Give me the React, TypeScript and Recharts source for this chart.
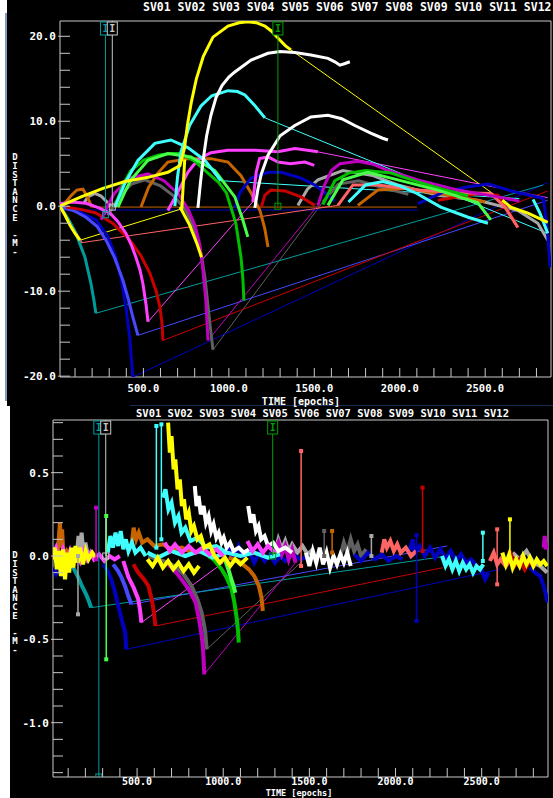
import React from "react";
import { LineChart, Line, XAxis, YAxis, ReferenceArea } from "recharts";

type Pt = [number, number];

const svNames = ["SV01", "SV02", "SV03", "SV04", "SV05", "SV06", "SV07", "SV08", "SV09", "SV10", "SV11", "SV12"];

const YEL = "#ffff00";
const WHT = "#ffffff";
const CYN = "#40ffff";
const GRN = "#00c000";
const MAG = "#c000c0";
const BRN = "#c86400";
const DGY = "#606060";
const BLU = "#4848ff";
const NAV = "#0000c0";
const RED = "#c80000";
const PNK = "#ff40ff";
const TEA = "#009c9c";
const LGN = "#48ff48";
const SAL = "#ff6464";
const LGY = "#a8a8a8";

const MONO = '"DejaVu Sans Mono", "Liberation Mono", monospace';
const FRAME = "#c8c8c8";

const xDomain: [number, number] = [12, 2885];
const xTicks = [100, 200, 300, 400, 500, 600, 700, 800, 900, 1000, 1100, 1200, 1300, 1400, 1500, 1600, 1700, 1800, 1900, 2000, 2100, 2200, 2300, 2400, 2500, 2600, 2700, 2800];
const xMajors = [500, 1000, 1500, 2000, 2500];

const topYDomain: [number, number] = [-20.1, 21.8];
const topYTicks = [-20, -18, -16, -14, -12, -10, -8, -6, -4, -2, 0, 2, 4, 6, 8, 10, 12, 14, 16, 18, 20];
const topYMajors = [-20, -10, 0, 10, 20];

const botYDomain: [number, number] = [-1.326, 0.816];
const botYTicks = [-1.3, -1.2, -1.1, -1.0, -0.9, -0.8, -0.7, -0.6, -0.5, -0.4, -0.3, -0.2, -0.1, 0, 0.1, 0.2, 0.3, 0.4, 0.5, 0.6, 0.7, 0.8];
const botYMajors = [-1.0, -0.5, 0, 0.5];

// cycle slip markers
const slipEpochs = [278, 318, 1287];
const slipColors = [TEA, "#c8c8c8", "#00a000"];
const topSlipEnds = [-1.0, -0.1, 0.0];
const botSlipEnds = [-1.326, 0.0, 0.0];

// ---------- upper panel: distance [m] ----------
const top01: Pt[][] = [
  [[12, 0], [40, -1.0], [70, -2.2], [100, -3.2], [129, -4.0]],
  [[12, 0], [135, 1.1], [263, 2.1], [392, 2.9], [527, 3.4], [643, 4.0], [714, 4.8], [740, 6.8], [758, 9.6], [780, 12.2], [810, 15.0], [850, 17.6], [907, 19.9], [995, 21.2], [1060, 21.6], [1111, 21.7], [1160, 21.6], [1211, 21.2], [1250, 20.6], [1287, 19.8], [1330, 18.9], [1363, 18.4]],
  [[725, -0.3], [733, 2.5], [742, 5.5]],
  [[714, -0.1], [770, -2.2], [815, -4.5], [840, -6.0]],
  [[2600, 0.7], [2650, -0.1], [2750, -0.8], [2866, -1.9]],
];
const topJ01: Pt[][] = [[[129, -4.0], [725, -0.3]], [[1363, 18.4], [2600, 0.7]]];

const top02: Pt[][] = [
  [[819, -0.2], [835, 3.0], [850, 5.5], [870, 8.3], [895, 10.7], [925, 12.8], [960, 14.2], [1000, 15.2], [1035, 15.8], [1130, 17.2], [1229, 18.0], [1300, 18.2], [1386, 18.1], [1480, 17.8], [1580, 17.4], [1620, 17.0], [1650, 16.6], [1680, 16.8], [1708, 17.0]],
  [[1152, -0.2], [1170, 2.0], [1190, 3.8], [1229, 6.0], [1300, 8.3], [1386, 9.5], [1480, 10.5], [1580, 10.7], [1660, 10.3], [1737, 9.5], [1830, 8.6], [1900, 8.0], [1931, 7.8]],
];
const topJ02: Pt[][] = [];

const top03: Pt[][] = [
  [[333, -0.1], [392, 2.7], [468, 5.4], [567, 7.4], [661, 7.8], [760, 6.9], [860, 5.4], [954, 3.0]],
  [[684, 0], [700, 3.5], [720, 6.4], [770, 9.5], [837, 11.8], [900, 13.0], [995, 13.6], [1050, 13.5], [1094, 13.1], [1150, 11.9], [1211, 10.4]],
  [[1700, 0.5], [1800, 2.5], [1900, 2.9], [2000, 2.4], [2100, 1.5], [2240, -0.1], [2400, -1.3], [2516, -2.0]],
  [[2780, 0.8], [2820, -0.8], [2866, -3.2]],
];
const topJ03: Pt[][] = [[[954, 3.0], [2700, 0.9]], [[1211, 10.4], [2866, -3.2]]];

const top04: Pt[][] = [
  [[333, -0.1], [380, 2.5], [427, 4.2], [500, 5.4], [585, 6.0], [660, 6.2], [720, 6.2], [800, 5.3], [878, 3.9], [940, 2.8], [985, 1.6], [1041, -2.0], [1071, -6.0], [1082, -8.5], [1088, -11.1]],
  [[1550, 0.2], [1620, 3.0], [1700, 3.9], [1800, 4.2], [1950, 3.9], [2100, 2.9], [2250, 2.0], [2400, 1.2]],
];
const topJ04: Pt[][] = [];

const top05: Pt[][] = [
  [[252, -1.6], [290, 0.0], [330, 1.5], [420, 3.3], [527, 3.8], [620, 3.0], [702, 1.5], [760, -0.3], [801, -2.2], [830, -4.5], [848, -7.5], [865, -11.0], [878, -15.8]],
  [[1521, 0.1], [1560, 2.5], [1600, 4.2], [1650, 5.0], [1755, 5.3], [1850, 4.9], [1931, 4.2], [2106, 3.1], [2340, 1.9], [2574, 1.1], [2700, 0.6]],
];
const topJ05: Pt[][] = [[[878, -15.8], [1521, 0.1]]];

const top06: Pt[][] = [
  [[30, 0.1], [75, 1.2], [110, 1.9], [146, 2.0], [170, 1.2], [187, 0.4], [200, -0.1]],
  [[486, -0.1], [530, 2.2], [585, 3.9], [643, 5.2], [760, 5.6], [895, 5.6], [995, 5.2], [1071, 3.6], [1129, 1.6], [1182, -0.5], [1210, -2.6], [1229, -4.8]],
  [[1755, 0.1], [1872, 1.9], [2048, 2.1], [2223, 1.5], [2399, 0.9], [2500, 0.5]],
];
const topJ06: Pt[][] = [[[200, -0.1], [2100, -0.1]]];

const top07: Pt[][] = [
  [[292, -1.1], [360, 1.2], [430, 2.6], [509, 3.1], [600, 2.4], [684, 1.1], [750, -0.6], [801, -2.8], [840, -5.8], [860, -8.4], [889, -13.8], [907, -16.9]],
  [[1550, 0.5], [1640, 2.6], [1760, 3.0], [1900, 2.2], [2050, 1.4]],
];
const topJ07: Pt[][] = [[[907, -16.9], [1550, 0.5]]];

const top08: Pt[][] = [
  [[12, -0.1], [90, -0.5], [164, -1.3], [230, -2.4], [281, -4.0], [330, -6.0], [380, -8.7], [410, -10.8], [439, -13.1], [468, -15.2]],
];
const topJ08: Pt[][] = [[[468, -15.2], [2866, 0.7]]];

const top09: Pt[][] = [
  [[12, -0.1], [120, -0.6], [222, -1.6], [290, -3.5], [339, -6.0], [370, -8.5], [398, -11.9], [420, -15.5], [432, -18.5], [439, -20.1]],
  [[1035, -0.2], [1065, 1.6], [1129, 3.3], [1229, 4.0], [1305, 4.0], [1422, 3.3], [1503, 2.5], [1580, 1.3], [1620, 0.6]],
  [[2106, 0.3], [2250, 1.6], [2400, 2.3], [2520, 2.6], [2650, 1.8], [2780, 1.2], [2840, 0.9], [2860, -2.0], [2872, -5.0], [2880, -7.2]],
];
const topJ09: Pt[][] = [[[439, -20.1], [2866, 2.8]], [[12, -0.45], [2106, -0.45]]];

const top10: Pt[][] = [
  [[47, -0.1], [140, -0.4], [222, -0.8], [320, -2.0], [421, -4.0], [485, -5.8], [538, -7.9], [575, -10.0], [597, -11.9], [610, -14.0], [614, -15.8]],
  [[1190, -0.1], [1211, 1.3], [1246, 1.9], [1328, 1.8], [1422, 1.1], [1503, 0.1]],
  [[2223, 0.7], [2457, 1.5], [2574, 1.3], [2633, -0.5], [2691, -2.5]],
];
const topJ10: Pt[][] = [[[614, -15.8], [2866, 1.8]]];

const top11: Pt[][] = [
  [[12, 0.3], [80, 0.5], [164, 0.35], [240, -0.2], [304, -0.8], [350, -1.8], [398, -3.2], [430, -4.6], [456, -6.0], [480, -7.5], [497, -9.1], [515, -11.5], [527, -13.6]],
  [[1140, 0.5], [1160, 4.0], [1180, 5.6], [1230, 5.8], [1287, 5.2], [1360, 5.0], [1445, 5.2], [1500, 4.8]],
  [[643, -0.5], [700, 1.6], [760, 4.0], [820, 5.5], [895, 6.3], [995, 6.6], [1152, 6.6], [1287, 6.4], [1386, 6.8], [1460, 6.6], [1521, 6.4]],
];
const topJ11: Pt[][] = [[[527, -13.6], [1140, 0.5]], [[1521, 6.4], [2866, 1.0]]];

const top12: Pt[][] = [
  [[12, 0], [60, -1.5], [105, -3.2], [158, -6.0], [193, -9.1], [210, -11.0], [222, -12.6]],
];
const topJ12: Pt[][] = [[[222, -12.6], [2840, 2.5]]];

const top13: Pt[][] = [
  [[351, -0.1], [390, 1.6], [427, 3.1], [527, 5.4], [643, 6.2], [778, 5.8], [918, 4.2], [1035, 1.1], [1080, -1.5], [1111, -3.6]],
  [[1580, 0.1], [1667, 3.1], [1813, 4.0], [1989, 3.1], [2223, 1.9], [2457, 0.4], [2533, -1.6]],
];
const topJ13: Pt[][] = [];

const top14: Pt[][] = [
  [[12, 0], [60, -1.6], [100, -3.0], [135, -4.3]],
  [[1638, 0.1], [1726, 2.5], [1872, 2.5], [2106, 1.9], [2340, 1.6], [2533, 1.5], [2615, -0.1], [2691, -2.5]],
];
const topJ14: Pt[][] = [[[135, -4.3], [1638, 0.1]]];

const top15: Pt[][] = [
  [[150, 0.3], [175, 1.1], [216, 1.5], [252, 1.2], [292, 0.4], [310, 0.0]],
  [[1404, 0.1], [1460, 2.0], [1521, 3.1], [1667, 4.2], [1843, 3.6], [1989, 2.5], [2223, 1.3], [2457, 0.7], [2691, -0.5], [2808, -2.0], [2866, -4.0]],
];
const topJ15: Pt[][] = [];

// ---------- lower panel: residual distance [m] ----------
const bot01: Pt[][] = [
  [[10, -0.02], [22, 0.05], [34, -0.08], [46, 0.03], [58, -0.12], [70, 0.04], [82, -0.14], [94, 0.02], [106, -0.10], [118, 0.05], [130, -0.07], [142, 0.06], [156, -0.04], [170, 0.05], [186, -0.05], [202, 0.03], [218, -0.02], [240, 0.02], [260, -0.01]],
  [[560, -0.02], [590, -0.06], [620, -0.01], [650, -0.07], [680, -0.03], [710, -0.08], [740, -0.04], [770, -0.09], [800, -0.05], [830, -0.10], [860, -0.06]],
  [[680, 0.80], [690, 0.62], [700, 0.72], [712, 0.52], [722, 0.58], [735, 0.40], [748, 0.46], [760, 0.30], [772, 0.34], [785, 0.22], [800, 0.26], [815, 0.15], [830, 0.18], [850, 0.10], [870, 0.12], [890, 0.05], [920, 0.07], [950, 0.0], [980, -0.04], [1010, -0.01], [1040, -0.06], [1070, -0.02], [1100, -0.05], [1140, -0.01]],
  [[2620, 0.02], [2640, -0.05], [2660, 0.01], [2680, -0.07], [2700, -0.02], [2720, -0.06], [2740, 0.0], [2760, -0.05], [2780, -0.01], [2800, -0.06], [2820, -0.02], [2840, -0.05], [2860, -0.03], [2880, -0.06]],
];
const botJ01: Pt[][] = [];

const bot02: Pt[][] = [
  [[835, 0.42], [845, 0.30], [857, 0.36], [870, 0.25], [886, 0.30], [900, 0.20], [915, 0.24], [930, 0.15], [944, 0.19], [960, 0.11], [974, 0.14], [990, 0.08], [1003, 0.11], [1020, 0.05], [1040, 0.08], [1060, 0.03], [1090, 0.05], [1120, 0.02], [1149, 0.04]],
  [[1145, 0.30], [1160, 0.20], [1175, 0.25], [1190, 0.15], [1205, 0.18], [1220, 0.10], [1240, 0.12], [1260, 0.06], [1290, 0.08], [1320, 0.03], [1360, 0.05], [1400, 0.02]],
  [[1480, 0.02], [1500, -0.06], [1520, 0.03], [1540, -0.04], [1560, 0.05], [1580, -0.05], [1600, 0.02], [1620, -0.07], [1640, 0.0], [1660, -0.05], [1680, 0.01], [1700, -0.04], [1720, 0.02], [1740, -0.06]],
];
const botJ02: Pt[][] = [];

const bot03: Pt[][] = [
  [[330, 0.02], [345, 0.12], [360, 0.05], [375, 0.14], [390, 0.06], [405, 0.15], [420, 0.04], [435, 0.10], [450, 0.03], [470, 0.08], [490, 0.02], [520, 0.05], [550, 0.0]],
  [[560, 0.02], [620, -0.01], [700, 0.03], [780, 0.0], [860, 0.03], [940, -0.01], [1020, 0.02], [1100, 0.0], [1180, 0.02], [1260, -0.01], [1330, 0.01]],
  [[650, 0.35], [665, 0.40], [682, 0.28], [700, 0.32], [720, 0.20], [740, 0.24], [758, 0.14], [780, 0.17], [810, 0.09], [850, 0.11], [900, 0.05], [960, 0.06], [1020, 0.02]],
  [[2270, 0.0], [2290, -0.06], [2310, -0.02], [2330, -0.08], [2350, -0.03], [2370, -0.09], [2390, -0.04], [2410, -0.08], [2430, -0.05], [2450, -0.10], [2470, -0.06], [2490, -0.08], [2510, -0.05]],
];
const botJ03: Pt[][] = [];

const bot04: Pt[][] = [
  [[915, 0.0], [944, -0.02], [991, -0.08], [1020, -0.13], [1049, -0.20], [1065, -0.28], [1079, -0.38], [1086, -0.45], [1090, -0.52]],
];
const botJ04: Pt[][] = [];

const bot05: Pt[][] = [
  [[682, -0.05], [720, -0.09], [758, -0.14], [800, -0.20], [840, -0.28], [860, -0.38], [875, -0.48], [882, -0.55], [886, -0.62], [890, -0.71]],
  [[1300, 0.03], [1320, 0.08], [1340, 0.01], [1360, 0.06], [1380, -0.02], [1400, 0.04], [1420, -0.04]],
  [[2860, 0.05], [2866, 0.12], [2872, 0.04], [2880, 0.08]],
];
const botJ05: Pt[][] = [[[890, -0.71], [1420, -0.04]]];

const bot06: Pt[][] = [
  [[40, 0.02], [52, 0.20], [58, 0.05], [65, 0.16], [72, 0.0], [90, 0.03], [110, -0.01]],
  [[466, 0.05], [480, 0.17], [495, 0.10], [510, 0.14], [530, 0.08], [560, 0.10], [600, 0.06], [650, 0.07], [700, 0.04], [760, 0.05], [820, 0.02], [880, 0.03], [940, 0.01]],
  [[1032, -0.01], [1090, -0.03], [1149, -0.08], [1180, -0.12], [1207, -0.18], [1222, -0.25], [1230, -0.33]],
];
const botJ06: Pt[][] = [];

const bot07: Pt[][] = [
  [[566, 0.0], [620, -0.02], [680, -0.04], [723, -0.065], [770, -0.11], [816, -0.18], [850, -0.26], [875, -0.34], [895, -0.45], [904, -0.56]],
  [[1680, 0.0], [1700, 0.08], [1720, 0.02], [1740, 0.10], [1760, 0.03], [1780, 0.07], [1800, 0.0], [1830, 0.04]],
];
const botJ07: Pt[][] = [[[904, -0.56], [1460, -0.03]]];

const bot08: Pt[][] = [
  [[361, -0.05], [390, -0.09], [408, -0.125], [430, -0.18], [449, -0.24], [460, -0.27], [466, -0.29]],
];
const botJ08: Pt[][] = [[[466, -0.29], [2300, 0.06]]];

const bot09: Pt[][] = [
  [[10, -0.07], [30, -0.11], [50, -0.08], [70, -0.12], [90, -0.09]],
  [[303, -0.05], [330, -0.09], [350, -0.14], [370, -0.21], [391, -0.30], [410, -0.38], [431, -0.46], [437, -0.56]],
  [[1030, 0.05], [1060, -0.02], [1090, 0.06], [1120, -0.01], [1149, 0.03], [1180, -0.04], [1210, 0.02], [1240, -0.03], [1270, 0.01], [1300, -0.04], [1330, 0.0], [1360, -0.03], [1400, 0.01], [1450, -0.02], [1500, 0.0]],
  [[1760, 0.01], [1800, -0.03], [1840, 0.02], [1880, -0.02], [1920, 0.01], [1960, -0.03], [2000, 0.0], [2040, -0.02]],
  [[2080, 0.03], [2100, 0.10], [2110, 0.02], [2140, 0.06], [2170, 0.0], [2200, 0.05], [2230, -0.01], [2260, 0.04], [2290, -0.02], [2320, 0.03], [2350, -0.03], [2380, 0.01], [2410, -0.04], [2440, -0.02], [2470, -0.06], [2500, -0.09], [2520, -0.14], [2540, -0.10]],
  [[2780, -0.07], [2810, -0.10], [2840, -0.12], [2860, -0.18], [2875, -0.24], [2883, -0.28]],
];
const botJ09: Pt[][] = [[[437, -0.56], [2606, -0.08]]];

const bot10: Pt[][] = [
  [[478, -0.05], [507, -0.10], [540, -0.14], [566, -0.18], [585, -0.26], [598, -0.34], [606, -0.42]],
  [[2664, 0.03], [2690, -0.06], [2720, -0.02], [2750, -0.08], [2780, -0.03], [2810, -0.07]],
];
const botJ10: Pt[][] = [[[606, -0.42], [2274, -0.07]]];

const bot11: Pt[][] = [
  [[10, 0.0], [30, 0.05], [50, -0.02], [70, 0.04], [90, -0.03], [110, 0.03], [130, -0.04], [150, 0.02], [170, -0.03], [190, 0.03], [210, -0.02], [230, 0.02], [250, -0.02], [280, 0.01], [310, -0.03], [340, 0.0], [370, -0.02], [400, 0.0]],
  [[420, -0.03], [449, -0.125], [480, -0.19], [507, -0.26], [518, -0.33], [525, -0.40]],
  [[660, 0.08], [690, 0.03], [720, 0.07], [760, 0.02], [800, 0.06], [840, 0.02], [880, 0.05], [920, 0.01], [960, 0.04], [1000, 0.0]],
  [[1140, 0.09], [1170, 0.03], [1200, 0.07], [1230, 0.02], [1260, 0.06], [1300, 0.02]],
];
const botJ11: Pt[][] = [[[525, -0.40], [1000, -0.04]]];

const bot12: Pt[][] = [
  [[99, -0.02], [130, -0.07], [157, -0.125], [180, -0.18], [204, -0.23], [220, -0.27], [233, -0.31]],
];
const botJ12: Pt[][] = [[[233, -0.31], [2300, 0.0]]];

const bot13: Pt[][] = [
  [[1010, -0.02], [1030, -0.08], [1050, -0.15], [1060, -0.18], [1070, -0.22]],
];
const botJ13: Pt[][] = [];

const bot14: Pt[][] = [
  [[1920, 0.02], [1935, 0.10], [1950, 0.05], [1970, 0.09], [1990, 0.03], [2010, 0.07], [2030, 0.02], [2060, 0.05], [2090, 0.0], [2120, 0.03]],
  [[2548, -0.03], [2570, 0.02], [2590, -0.05], [2610, -0.02], [2640, -0.06], [2660, -0.03]],
];
const botJ14: Pt[][] = [];

const bot15: Pt[][] = [
  [[150, 0.0], [160, 0.12], [168, 0.03], [178, 0.14], [188, 0.02], [200, 0.08], [215, 0.0]],
  [[1300, 0.02], [1320, 0.10], [1340, 0.04], [1360, 0.09], [1380, 0.03], [1400, 0.07], [1430, 0.02], [1460, 0.06], [1490, 0.01], [1520, 0.04]],
  [[2680, 0.02], [2720, -0.02], [2760, 0.03], [2800, -0.04], [2840, -0.06], [2880, -0.10]],
];
const botJ15: Pt[][] = [];

// isolated outliers in the lower panel
const spikeEpochs = [157, 262, 321, 612, 641, 1452, 1586, 1632, 1860, 2122, 2157, 2507, 2590, 2664];
const spikeTops = [0.0, 0.29, 0.24, 0.78, 0.79, 0.63, 0.15, 0.15, 0.12, 0.125, 0.41, 0.14, 0.16, 0.22];
const spikeBottoms = [-0.35, -0.02, -0.62, 0.05, 0.10, -0.06, 0.0, 0.02, 0.0, -0.39, 0.03, -0.03, -0.17, -0.02];
const spikeColors = [LGY, MAG, LGN, CYN, CYN, SAL, DGY, BRN, LGY, NAV, RED, CYN, SAL, YEL];

type Series = { color: string; arcs: Pt[][]; jumps: Pt[][] };

const topSeries: Series[] = [
  { color: LGY, arcs: top15, jumps: topJ15 },
  { color: DGY, arcs: top07, jumps: topJ07 },
  { color: BRN, arcs: top06, jumps: topJ06 },
  { color: NAV, arcs: top09, jumps: topJ09 },
  { color: BLU, arcs: top08, jumps: topJ08 },
  { color: RED, arcs: top10, jumps: topJ10 },
  { color: SAL, arcs: top14, jumps: topJ14 },
  { color: TEA, arcs: top12, jumps: topJ12 },
  { color: MAG, arcs: top05, jumps: topJ05 },
  { color: PNK, arcs: top11, jumps: topJ11 },
  { color: GRN, arcs: top04, jumps: topJ04 },
  { color: LGN, arcs: top13, jumps: topJ13 },
  { color: CYN, arcs: top03, jumps: topJ03 },
  { color: WHT, arcs: top02, jumps: topJ02 },
  { color: YEL, arcs: top01, jumps: topJ01 },
];

const botSeries: Series[] = [
  { color: DGY, arcs: bot07, jumps: botJ07 },
  { color: LGY, arcs: bot15, jumps: botJ15 },
  { color: NAV, arcs: bot09, jumps: botJ09 },
  { color: BLU, arcs: bot08, jumps: botJ08 },
  { color: RED, arcs: bot10, jumps: botJ10 },
  { color: SAL, arcs: bot14, jumps: botJ14 },
  { color: TEA, arcs: bot12, jumps: botJ12 },
  { color: GRN, arcs: bot04, jumps: botJ04 },
  { color: LGN, arcs: bot13, jumps: botJ13 },
  { color: BRN, arcs: bot06, jumps: botJ06 },
  { color: MAG, arcs: bot05, jumps: botJ05 },
  { color: CYN, arcs: bot03, jumps: botJ03 },
  { color: WHT, arcs: bot02, jumps: botJ02 },
  { color: PNK, arcs: bot11, jumps: botJ11 },
  { color: YEL, arcs: bot01, jumps: botJ01 },
];

const toRows = (pts: Pt[]) => pts.map(([t, d]) => ({ t, d }));
const isMajor = (list: number[], v: number) => list.some((m) => Math.abs(m - v) < 1e-6);

type PanelProps = {
  top: number;
  height: number;
  topMargin: number;
  rightMargin: number;
  yAxisWidth: number;
  xAxisHeight: number;
  xLabelDy: number;
  xLabelSize: number;
  yDomain: [number, number];
  yTicks: number[];
  yMajors: number[];
  series: Series[];
  arcWidth: number;
  slipEnds: number[];
  withSpikes: boolean;
};

function Panel(p: PanelProps) {
  const yTick = (t: any) => {
    const v = t.payload.value;
    const major = isMajor(p.yMajors, v);
    return (
      <g>
        <line x1={major ? t.x - 2 : t.x} x2={t.x + 10} y1={t.y} y2={t.y} stroke={FRAME} />
        {major && (
          <text x={t.x - 4} y={t.y + 4} textAnchor="end" fill="#ffffff" fontSize={11} fontWeight="bold" fontFamily={MONO}>
            {v.toFixed(1)}
          </text>
        )}
      </g>
    );
  };
  const xTick = (t: any) => {
    const v = t.payload.value;
    const major = isMajor(xMajors, v);
    return (
      <g>
        <line x1={t.x} x2={t.x} y1={t.y} y2={t.y - 9} stroke={FRAME} />
        {major && (
          <text x={t.x} y={t.y + p.xLabelDy} textAnchor="middle" fill="#ffffff" fontSize={p.xLabelSize} fontWeight="bold" fontFamily={MONO}>
            {v.toFixed(1)}
          </text>
        )}
      </g>
    );
  };

  const jumpLines = p.series.flatMap((s, si) =>
    s.jumps.map((j, ji) => (
      <Line key={`j-${si}-${ji}`} data={toRows(j)} dataKey="d" type="linear" stroke={s.color} strokeWidth={1} dot={false} activeDot={false} isAnimationActive={false} />
    ))
  );
  const arcLines = p.series.flatMap((s, si) =>
    s.arcs.map((a, ai) => (
      <Line key={`a-${si}-${ai}`} data={toRows(a)} dataKey="d" type="linear" stroke={s.color} strokeWidth={p.arcWidth} dot={false} activeDot={false} isAnimationActive={false} />
    ))
  );
  const spikeLines = p.withSpikes
    ? spikeEpochs.map((t, i) => {
        const c = spikeColors[i];
        return (
          <Line
            key={`s-${i}`}
            data={toRows([[t, spikeTops[i]], [t, spikeBottoms[i]]])}
            dataKey="d"
            type="linear"
            stroke={c}
            strokeWidth={1.5}
            activeDot={false}
            isAnimationActive={false}
            dot={(d: any) => <rect key={`sd-${i}-${d.index}`} x={d.cx - 2} y={d.cy - 2} width={4} height={4} fill={c} />}
          />
        );
      })
    : [];
  const slipLines = slipEpochs.map((t, i) => {
    const c = slipColors[i];
    return (
      <Line
        key={`m-${i}`}
        data={toRows([[t, p.yDomain[1]], [t, p.slipEnds[i]]])}
        dataKey="d"
        type="linear"
        stroke={c}
        strokeWidth={1}
        activeDot={false}
        isAnimationActive={false}
        dot={(d: any) =>
          d.index === 0 ? (
            <g key={`md-${i}-0`}>
              <rect x={d.cx - 5} y={d.cy + 1} width={10} height={13} fill="#000000" stroke={c} />
              <text x={d.cx} y={d.cy + 11} textAnchor="middle" fill={c} fontSize={10} fontWeight="bold" fontFamily={MONO}>
                I
              </text>
            </g>
          ) : (
            <rect key={`md-${i}-1`} x={d.cx - 3} y={d.cy - 3} width={6} height={6} fill="none" stroke={c} />
          )
        }
      />
    );
  });

  return (
    <div style={{ position: "absolute", left: 0, top: p.top, width: 553, height: p.height }}>
      <LineChart width={553} height={p.height} margin={{ top: p.topMargin, right: p.rightMargin, bottom: 0, left: 0 }}>
        <XAxis
          type="number"
          dataKey="t"
          domain={xDomain}
          allowDataOverflow
          ticks={xTicks}
          interval={0}
          tick={xTick}
          tickLine={false}
          axisLine={false}
          tickSize={0}
          tickMargin={0}
          height={p.xAxisHeight}
        />
        <YAxis
          type="number"
          domain={p.yDomain}
          allowDataOverflow
          ticks={p.yTicks}
          interval={0}
          tick={yTick}
          tickLine={false}
          axisLine={false}
          tickSize={0}
          tickMargin={0}
          width={p.yAxisWidth}
        />
        {jumpLines}
        {arcLines}
        {spikeLines}
        {slipLines}
        <ReferenceArea x1={xDomain[0]} x2={xDomain[1]} y1={p.yDomain[0]} y2={p.yDomain[1]} fill="none" stroke={FRAME} strokeWidth={1} ifOverflow="visible" />
      </LineChart>
    </div>
  );
}

const yLabelChars = "DISTANCE -M-".split("");

function Captions() {
  const header = svNames.join(" ");
  const txt = { fill: "#ffffff", fontFamily: MONO, fontWeight: "bold" as const };
  return (
    <svg width={553} height={798} style={{ position: "absolute", left: 0, top: 0, pointerEvents: "none" }}>
      <text x={143} y={11} fontSize={11.5} {...txt} xmlSpace="preserve">{header}</text>
      <text x={136} y={416.5} fontSize={10.5} {...txt} xmlSpace="preserve">{header}</text>
      <text x={301} y={404.8} fontSize={10} textAnchor="middle" {...txt} xmlSpace="preserve">TIME [epochs]</text>
      <text x={299} y={796} fontSize={8.5} textAnchor="middle" {...txt} xmlSpace="preserve">TIME [epochs]</text>
      {yLabelChars.map((ch, i) => (
        <text key={`ya-${i}`} x={15} y={160.3 + i * 8.6} fontSize={9} textAnchor="middle" {...txt}>{ch}</text>
      ))}
      {yLabelChars.map((ch, i) => (
        <text key={`yb-${i}`} x={15} y={558.3 + i * 8.6} fontSize={9} textAnchor="middle" {...txt}>{ch}</text>
      ))}
    </svg>
  );
}

export default function App() {
  return (
    <div style={{ position: "absolute", left: 0, top: 0, width: 553, height: 798, background: "#ffffff", overflow: "hidden" }}>
      <div style={{ position: "absolute", left: 7, top: 0, width: 546, height: 406, background: "#000000" }} />
      <div style={{ position: "absolute", left: 10, top: 406, width: 543, height: 392, background: "#000000" }} />
      <div style={{ position: "absolute", left: 5, top: 13, width: 2, height: 388, background: "#8898c0" }} />
      <div style={{ position: "absolute", left: 130, top: 405, width: 423, height: 1, background: "#1c2c54" }} />

      <Panel
        top={0}
        height={410}
        topMargin={21}
        rightMargin={2}
        yAxisWidth={60}
        xAxisHeight={33}
        xLabelDy={15}
        xLabelSize={10.5}
        yDomain={topYDomain}
        yTicks={topYTicks}
        yMajors={topYMajors}
        series={topSeries}
        arcWidth={3}
        slipEnds={topSlipEnds}
        withSpikes={false}
      />
      <Panel
        top={400}
        height={398}
        topMargin={20}
        rightMargin={5}
        yAxisWidth={53}
        xAxisHeight={21}
        xLabelDy={8}
        xLabelSize={10}
        yDomain={botYDomain}
        yTicks={botYTicks}
        yMajors={botYMajors}
        series={botSeries}
        arcWidth={4}
        slipEnds={botSlipEnds}
        withSpikes={true}
      />

      <Captions />
    </div>
  );
}
